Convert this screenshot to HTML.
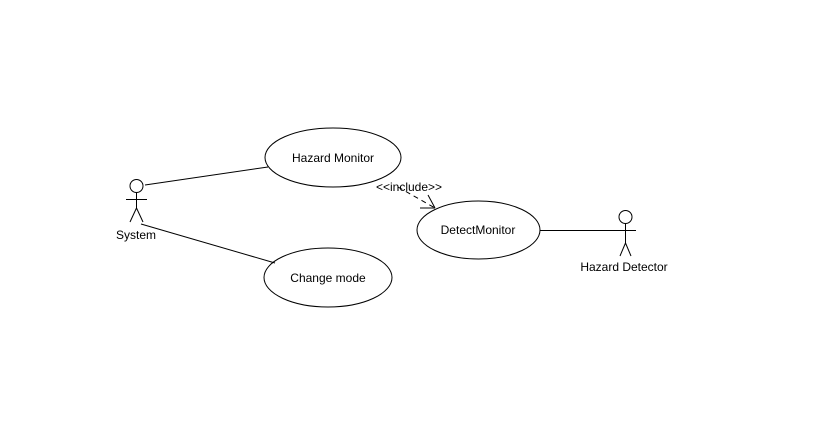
<!DOCTYPE html>
<html><head><style>body{margin:0;background:#fff}svg{display:block}text{font-family:"Liberation Sans",sans-serif;font-size:12px;fill:#000}</style></head>
<body><svg width="816" height="436" xmlns="http://www.w3.org/2000/svg">
<g stroke="#000" fill="none" stroke-width="1">
<circle cx="136.5" cy="186" r="6.5"/>
<line x1="136.5" y1="192.5" x2="136.5" y2="208"/>
<line x1="126" y1="199.5" x2="147" y2="199.5"/>
<line x1="136.5" y1="208" x2="130" y2="222"/>
<line x1="136.5" y1="208" x2="143" y2="222"/>
<line x1="145" y1="185" x2="268" y2="167"/>
<line x1="141" y1="224" x2="275" y2="263"/>
<ellipse cx="333" cy="157.5" rx="68" ry="29.5"/>
<ellipse cx="328" cy="277.5" rx="64" ry="29.5"/>
<ellipse cx="478.5" cy="230" rx="61.5" ry="29"/>
<line x1="398" y1="187" x2="435" y2="208" stroke-dasharray="5,4"/>
<line x1="435" y1="208" x2="420" y2="208"/>
<line x1="435" y1="208" x2="428" y2="195"/>
<line x1="540" y1="230.5" x2="636" y2="230.5"/>
<circle cx="625.5" cy="217" r="6.5"/>
<line x1="625.5" y1="223.5" x2="625.5" y2="243"/>
<line x1="625.5" y1="243" x2="620" y2="256"/>
<line x1="625.5" y1="243" x2="631" y2="256"/>
</g>
<text x="116" y="239">System</text>
<text x="333" y="162" text-anchor="middle">Hazard Monitor</text>
<text x="328" y="282" text-anchor="middle">Change mode</text>
<text x="478" y="234" text-anchor="middle">DetectMonitor</text>
<text x="409" y="191" text-anchor="middle">&lt;&lt;include&gt;&gt;</text>
<text x="624" y="271" text-anchor="middle">Hazard Detector</text>
</svg></body></html>
